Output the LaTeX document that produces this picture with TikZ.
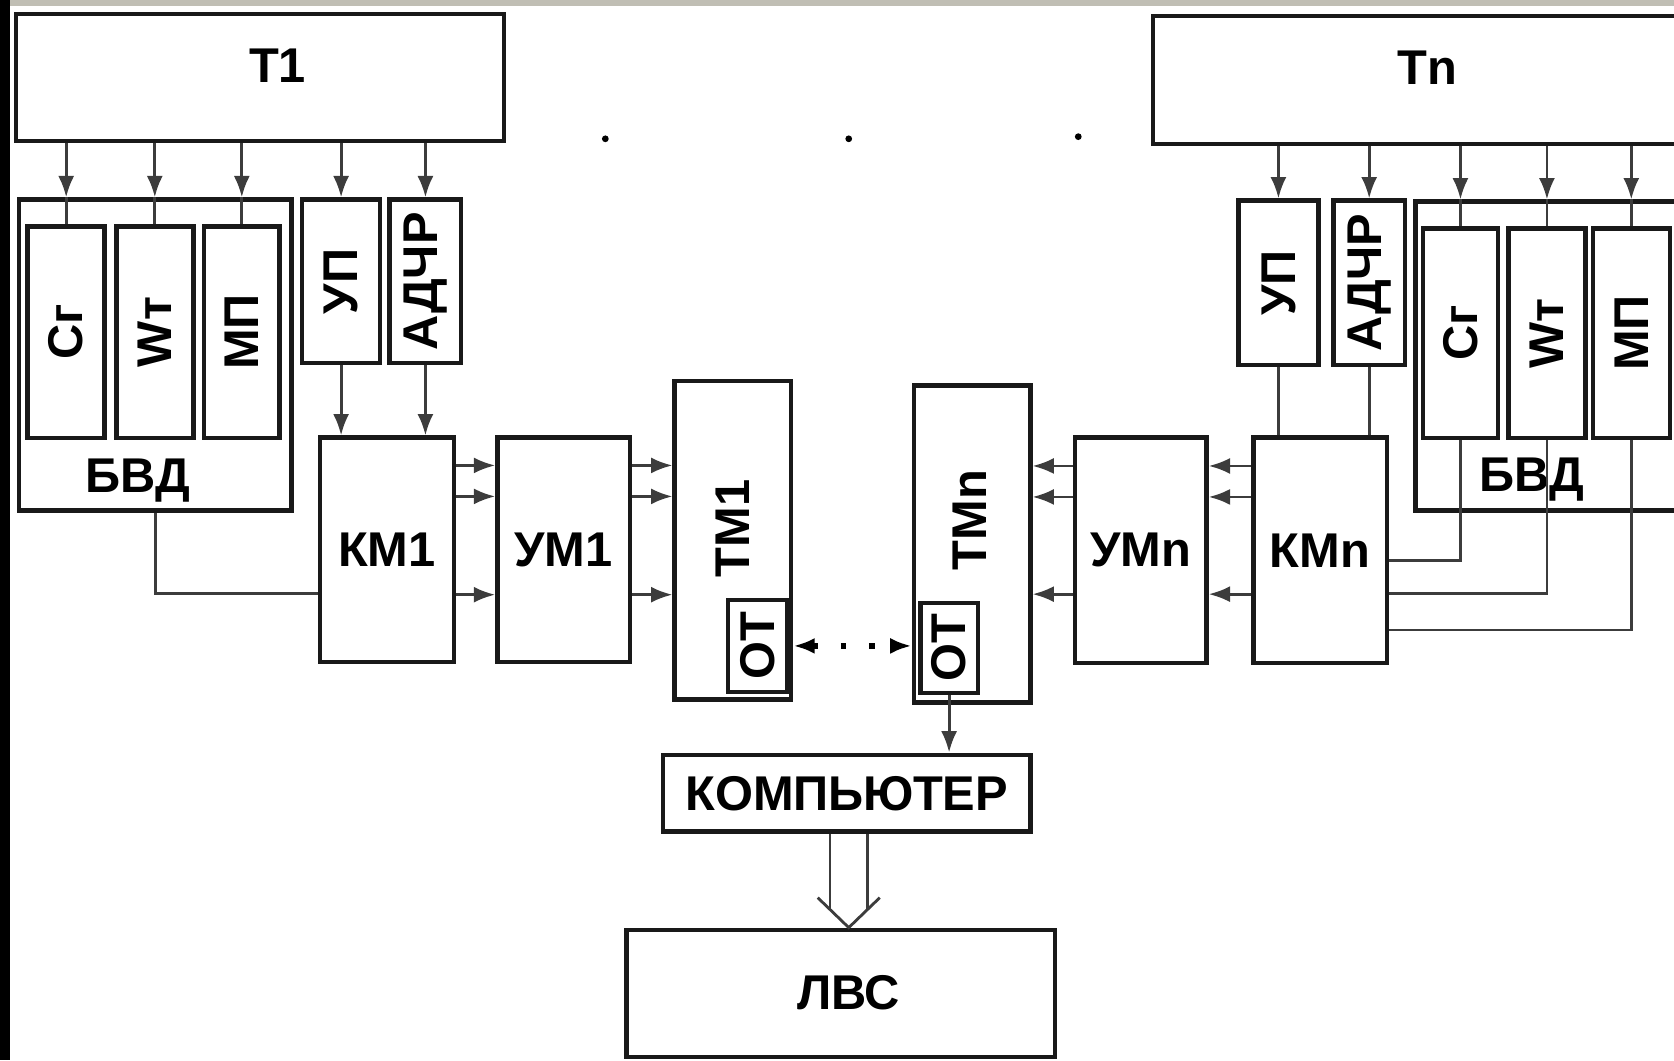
\documentclass[tikz,border=0pt]{standalone}
\usepackage{fontspec}
\setmainfont{Liberation Sans}
\usetikzlibrary{arrows.meta}
\definecolor{wire}{RGB}{60,60,60}
\definecolor{scrgray}{RGB}{192,190,180}

\begin{document}
\begin{tikzpicture}[x=0.01cm, y=-0.01cm, >={Latex[length=2mm,width=1.5mm]},
    blk/.style={draw=black!90, line width=1.2pt, fill=white, inner sep=0pt,
        font=\fontsize{13}{15}\selectfont\bfseries},
    lbl/.style={inner sep=0pt, font=\fontsize{13}{15}\selectfont\bfseries},
    sz/.style 2 args={minimum width=#1cm, minimum height=#2cm},
    conn/.style={draw=wire, line width=0.75pt}]
    \useasboundingbox (0,0) rectangle (1568,993);
    % рамка снимка
    \fill[scrgray] (0,0) rectangle (1568,6);
    \fill[black] (0,0) rectangle (9,993);
    % Терминал 1
    \begin{scope}
        \node[blk, sz={4.57}{1.19}] (T1) at (243.5,72.5) {};
        \node[lbl] (T1t) at (260,62) {Т1};
        \node[blk, sz={2.55}{2.91}] (BVD1) at (145.5,332.5) {};
        \node[lbl] (BVD1t) at (129,450) {БВД};
        \node[blk, sz={0.72}{1.98}] (Cr1) at (62,311) {\rotatebox{90}{Сг}};
        \node[blk, sz={0.72}{1.98}] (Wt1) at (145,311) {\rotatebox{90}{Wт}};
        \node[blk, sz={0.71}{1.98}] (MP1) at (226.5,311) {\rotatebox{90}{МП}};
        \node[blk, sz={0.73}{1.53}] (UP1) at (319.5,263.5) {\rotatebox{90}{УП}};
        \node[blk, sz={0.67}{1.53}] (AD1) at (398.5,263.5) {\rotatebox{90}{АДЧР}};
        \node[blk, sz={1.25}{2.10}] (KM1) at (362.5,515) {КМ1};
        \node[blk, sz={1.24}{2.10}] (UM1) at (528,515) {УМ1};
        \node[blk, sz={1.09}{2.98}] (TM1) at (686.5,506) {};
        \node[lbl] (TM1t) at (686,495) {\rotatebox{90}{ТМ1}};
        \node[blk, sz={0.55}{0.86}] (OT1) at (709.5,605) {\rotatebox{90}{ОТ}};

        \draw[conn,->] (T1.south -| Cr1) -- (BVD1.north -| Cr1);
        \draw[conn] (BVD1.north -| Cr1) -- (Cr1);
        \draw[conn,->] (T1.south -| Wt1) -- (BVD1.north -| Wt1);
        \draw[conn] (BVD1.north -| Wt1) -- (Wt1);
        \draw[conn,->] (T1.south -| MP1) -- (BVD1.north -| MP1);
        \draw[conn] (BVD1.north -| MP1) -- (MP1);
        \draw[conn,->] (T1.south -| UP1) -- (UP1);
        \draw[conn,->] (T1.south -| AD1) -- (AD1);
        \draw[conn,->] (UP1) -- (UP1 |- KM1.north);
        \draw[conn,->] (AD1) -- (AD1 |- KM1.north);
        \draw[conn] (BVD1.south) |- ([yshift=-4.1mm]KM1.west);
        \draw[conn,->] ([yshift=7.9mm]KM1.east) -- ([yshift=7.9mm]KM1.east -| UM1.west);
        \draw[conn,->] ([yshift=5mm]KM1.east) -- ([yshift=5mm]KM1.east -| UM1.west);
        \draw[conn,->] ([yshift=-4.2mm]KM1.east) -- ([yshift=-4.2mm]KM1.east -| UM1.west);
        \draw[conn,->] ([yshift=7.9mm]UM1.east) -- ([yshift=7.9mm]UM1.east -| TM1.west);
        \draw[conn,->] ([yshift=5mm]UM1.east) -- ([yshift=5mm]UM1.east -| TM1.west);
        \draw[conn,->] ([yshift=-4.2mm]UM1.east) -- ([yshift=-4.2mm]UM1.east -| TM1.west);
    \end{scope}
    % многоточие между терминалами
    \fill (567,130) circle (0.9pt);
    \fill (795,130) circle (0.9pt);
    \fill (1010,128) circle (0.9pt);
    % Терминал n
    \begin{scope}
        \node[blk, sz={5.2}{1.20}] (Tn) at (1340,75) {};
        \node[lbl] (Tnt) at (1337,63) {Тn};
        \node[blk, sz={2.74}{2.89}] (BVDn) at (1463,333.5) {};
        \node[lbl] (BVDnt) at (1435,449) {БВД};
        \node[blk, sz={0.70}{1.96}] (Crn) at (1368,312) {\rotatebox{90}{Сг}};
        \node[blk, sz={0.72}{1.96}] (Wtn) at (1449,312) {\rotatebox{90}{Wт}};
        \node[blk, sz={0.72}{1.96}] (MPn) at (1528,312) {\rotatebox{90}{МП}};
        \node[blk, sz={0.75}{1.54}] (UPn) at (1197.5,265) {\rotatebox{90}{УП}};
        \node[blk, sz={0.67}{1.54}] (ADn) at (1282.5,265) {\rotatebox{90}{АДЧР}};
        \node[blk, sz={1.25}{2.11}] (KMn) at (1236.5,515.5) {КМn};
        \node[blk, sz={1.23}{2.11}] (UMn) at (1068.5,515.5) {УМn};
        \node[blk, sz={1.09}{2.97}] (TMn) at (910.5,509.5) {};
        \node[lbl] (TMnt) at (908,487) {\rotatebox{90}{ТМn}};
        \node[blk, sz={0.54}{0.84}] (OTn) at (889,607) {\rotatebox{90}{ОТ}};

        \draw[conn,->] (Tn.south -| UPn) -- (UPn);
        \draw[conn,->] (Tn.south -| ADn) -- (ADn);
        \draw[conn,->] (Tn.south -| Crn) -- (BVDn.north -| Crn);
        \draw[conn] (BVDn.north -| Crn) -- (Crn);
        \draw[conn,->] (Tn.south -| Wtn) -- (BVDn.north -| Wtn);
        \draw[conn] (BVDn.north -| Wtn) -- (Wtn);
        \draw[conn,->] (Tn.south -| MPn) -- (BVDn.north -| MPn);
        \draw[conn] (BVDn.north -| MPn) -- (MPn);
        \draw[conn] (UPn) -- (UPn |- KMn.north);
        \draw[conn] (ADn) -- (ADn |- KMn.north);
        \draw[conn] (Crn) |- ([yshift=-0.95mm]KMn.east);
        \draw[conn] (Wtn) |- ([yshift=-4.05mm]KMn.east);
        \draw[conn] (MPn) |- ([yshift=-7.45mm]KMn.east);
        \draw[conn,->] ([yshift=7.9mm]KMn.west) -- ([yshift=7.9mm]KMn.west -| UMn.east);
        \draw[conn,->] ([yshift=5mm]KMn.west) -- ([yshift=5mm]KMn.west -| UMn.east);
        \draw[conn,->] ([yshift=-4.1mm]KMn.west) -- ([yshift=-4.1mm]KMn.west -| UMn.east);
        \draw[conn,->] ([yshift=7.9mm]UMn.west) -- ([yshift=7.9mm]UMn.west -| TMn.east);
        \draw[conn,->] ([yshift=5mm]UMn.west) -- ([yshift=5mm]UMn.west -| TMn.east);
        \draw[conn,->] ([yshift=-4.1mm]UMn.west) -- ([yshift=-4.1mm]UMn.west -| TMn.east);
    \end{scope}
    % связь ОТ -- ОТ
    \draw[<->, line width=1.5pt, dash pattern=on 1.5pt off 6pt] (TM1.east |- OT1) -- (TMn.west |- OT1);
    % компьютер и ЛВС
    \node[blk, sz={3.44}{0.72}] (PC) at (793,743) {КОМПЬЮТЕР};
    \node[blk, sz={4.01}{1.19}] (LVS) at (787.5,930.5) {};
    \node[lbl] (LVSt) at (795,930) {ЛВС};
    \draw[conn,->] (OTn) -- (OTn |- PC.north);
    \coordinate (lvsin) at ([xshift=0.75mm]LVS.north);
    \coordinate (pcout) at (PC.south -| lvsin);
    \draw[conn] ([xshift=-1.75mm]pcout) -- ([xshift=-1.75mm,yshift=1.7mm]lvsin);
    \draw[conn] ([xshift=1.75mm]pcout) -- ([xshift=1.75mm,yshift=1.7mm]lvsin);
    \draw[conn] ([xshift=-2.9mm,yshift=2.8mm]lvsin) -- (lvsin) -- ([xshift=2.9mm,yshift=2.8mm]lvsin);
\end{tikzpicture}
\end{document}
